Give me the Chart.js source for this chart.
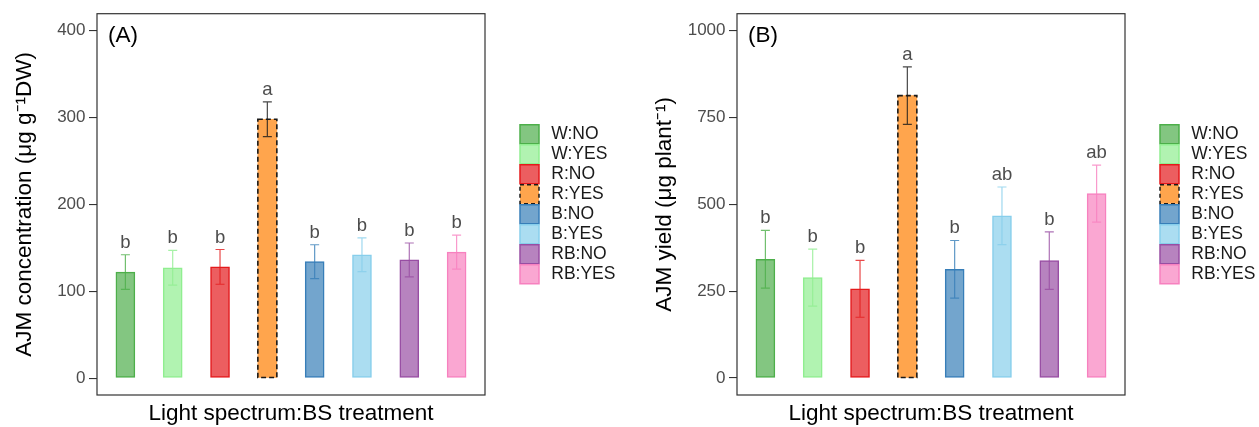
<!DOCTYPE html>
<html>
<head>
<meta charset="utf-8">
<script src="https://cdn.jsdelivr.net/npm/chart.js@4.4.1/dist/chart.umd.min.js"></script>
<style>
  body { margin: 0; background: #fff; }
  #wrap { position: relative; width: 1259px; height: 427px; }
  #chartA { position: absolute; left: 0; top: 0; }
  #chartB { position: absolute; left: 640px; top: 0; }
</style>
</head>
<body>
<div id="wrap">
  <canvas id="chartA" width="640" height="427"></canvas>
  <canvas id="chartB" width="619" height="427"></canvas>
</div>
<script>
// data
const categories = ["W:NO", "W:YES", "R:NO", "R:YES", "B:NO", "B:YES", "RB:NO", "RB:YES"];

const concMean = [122, 127, 128, 298, 134, 142, 136, 145];
const concErr = [20, 20, 20, 20, 19.5, 19.5, 19.5, 19.5];
const concLetters = ["b", "b", "b", "a", "b", "b", "b", "b"];
const concTicks = [0, 100, 200, 300, 400];

const yieldMean = [342, 289, 257, 813, 313, 467, 338, 531];
const yieldErr = [83, 82, 82, 83, 83, 83, 83, 82];
const yieldLetters = ["b", "b", "b", "a", "b", "ab", "b", "ab"];
const yieldTicks = [0, 250, 500, 750, 1000];

// styles
const fillColors = ["#83c681", "#b1f3b1", "#ec5e60", "#ffa54d", "#73a5cd", "#abddf1", "#b783bf", "#faa7d2"];
const lineColors = ["#4daf4a", "#90ee90", "#e41a1c", "#1a1a1a", "#377eb8", "#87ceeb", "#984ea3", "#f781bf"];
const dashed = [false, false, false, true, false, false, false, false];

const FONT = "'Liberation Sans', Arial, Helvetica, sans-serif";
const LEGEND_SIZE = 17.5;
const PANEL_RIGHT = 485;
const GAP = "\u2009"; // small gap between key and label

// natural width of the legend box, so the panel ends where it should
function legendWidth() {
    const c = document.createElement("canvas").getContext("2d");
    c.font = LEGEND_SIZE + "px " + FONT;
    const w = Math.max(...categories.map(t => c.measureText(GAP + t).width));
    return 1 + 19 + LEGEND_SIZE / 2 + w + 10;
}

function buildChart(id, means, errs, letters, yTicks, yMin, yMax, yTitle, tag) {
    const canvas = document.getElementById(id);
    const padRight = canvas.width - PANEL_RIGHT - legendWidth();

    const datasets = categories.map((c, i) => ({
        label: c,
        data: [{ x: i + 1, y: means[i] }],
        backgroundColor: fillColors[i],
        borderColor: lineColors[i],
        borderWidth: dashed[i] ? 0 : 1.5,
        borderSkipped: false,
        barThickness: 19,
        grouped: false
    }));

    const extras = {
        id: "extras",
        afterLayout(chart) {
            // push the legend away from the panel
            chart.legend.left += 34;
            chart.legend.right += 34;
        },
        afterDatasetsDraw(chart) {
            const ctx = chart.ctx;
            const xs = chart.scales.x, ys = chart.scales.y;
            const a = chart.chartArea;
            ctx.save();

            // dashed outline bars
            categories.forEach((c, i) => {
                if (!dashed[i]) return;
                const el = chart.getDatasetMeta(i).data[0];
                const p = el.getProps(["x", "y", "base", "width"], true);
                ctx.setLineDash([5, 3]);
                ctx.lineWidth = 1.6;
                ctx.strokeStyle = lineColors[i];
                ctx.strokeRect(p.x - p.width / 2, p.y, p.width, p.base - p.y);
                ctx.setLineDash([]);
            });

            // error bars and letters
            categories.forEach((c, i) => {
                const x = xs.getPixelForValue(i + 1);
                const top = ys.getPixelForValue(means[i] + errs[i]);
                const bot = ys.getPixelForValue(means[i] - errs[i]);
                ctx.globalAlpha = 0.8;
                ctx.strokeStyle = lineColors[i];
                ctx.lineWidth = 1.2;
                ctx.beginPath();
                ctx.moveTo(x, top); ctx.lineTo(x, bot);
                ctx.moveTo(x - 4.5, top); ctx.lineTo(x + 4.5, top);
                ctx.moveTo(x - 4.5, bot); ctx.lineTo(x + 4.5, bot);
                ctx.stroke();
                ctx.globalAlpha = 1;
                ctx.fillStyle = "#4d4d4d";
                ctx.font = "18.5px " + FONT;
                ctx.textAlign = "center";
                ctx.textBaseline = "alphabetic";
                ctx.fillText(letters[i], x, top - 7);
            });

            // panel border
            ctx.strokeStyle = "#333";
            ctx.lineWidth = 1.2;
            ctx.strokeRect(a.left, a.top, a.right - a.left, a.bottom - a.top);

            // panel tag
            ctx.fillStyle = "#000";
            ctx.font = "22.5px " + FONT;
            ctx.textAlign = "left";
            ctx.fillText(tag, a.left + 11, a.top + 28);
            ctx.restore();
        }
    };

    return new Chart(canvas, {
        type: "bar",
        data: { datasets },
        plugins: [extras],
        options: {
            responsive: false,
            animation: false,
            layout: { padding: { top: 13, left: 0, right: padRight, bottom: 0 } },
            plugins: {
                tooltip: { enabled: false },
                legend: {
                    position: "right",
                    fullSize: false,
                    labels: {
                        boxWidth: 19,
                        boxHeight: 19,
                        padding: 1,
                        color: "#1a1a1a",
                        font: { size: LEGEND_SIZE, family: FONT },
                        generateLabels(chart) {
                            const items = Chart.defaults.plugins.legend.labels.generateLabels(chart);
                            items.forEach((it, i) => {
                                it.text = GAP + it.text;
                                it.lineWidth = 1.5;
                                it.strokeStyle = lineColors[i];
                                it.lineDash = dashed[i] ? [4, 3] : [];
                            });
                            return items;
                        }
                    }
                }
            },
            scales: {
                x: {
                    type: "linear",
                    min: 0.4,
                    max: 8.6,
                    offset: false,
                    ticks: { display: false },
                    grid: { display: false, offset: false },
                    border: { display: false },
                    title: {
                        display: true,
                        text: "Light spectrum:BS treatment",
                        color: "#000",
                        font: { size: 22.5, family: FONT },
                        padding: 0
                    },
                    afterFit: s => { s.height = 32; }
                },
                y: {
                    min: yMin,
                    max: yMax,
                    afterBuildTicks: s => { s.ticks = yTicks.map(v => ({ value: v })); },
                    ticks: {
                        color: "#4d4d4d",
                        padding: 3.5,
                        font: { size: 17, family: FONT },
                        callback: v => String(v)
                    },
                    grid: {
                        display: true,
                        drawOnChartArea: false,
                        drawTicks: true,
                        tickLength: 8,
                        color: "#333",
                        lineWidth: 1.1
                    },
                    border: { display: false },
                    title: {
                        display: true,
                        text: yTitle,
                        color: "#000",
                        font: { size: 22.5, family: FONT },
                        padding: { top: 11, bottom: 0 }
                    },
                    afterFit: s => { s.width = 97; }
                }
            }
        }
    });
}

buildChart("chartA", concMean, concErr, concLetters, concTicks, -19.5, 419.5,
    "AJM concentration (μg g⁻¹DW)", "(A)");
buildChart("chartB", yieldMean, yieldErr, yieldLetters, yieldTicks, -48.8, 1048.8,
    "AJM yield (μg plant⁻¹)", "(B)");
</script>
</body>
</html>
